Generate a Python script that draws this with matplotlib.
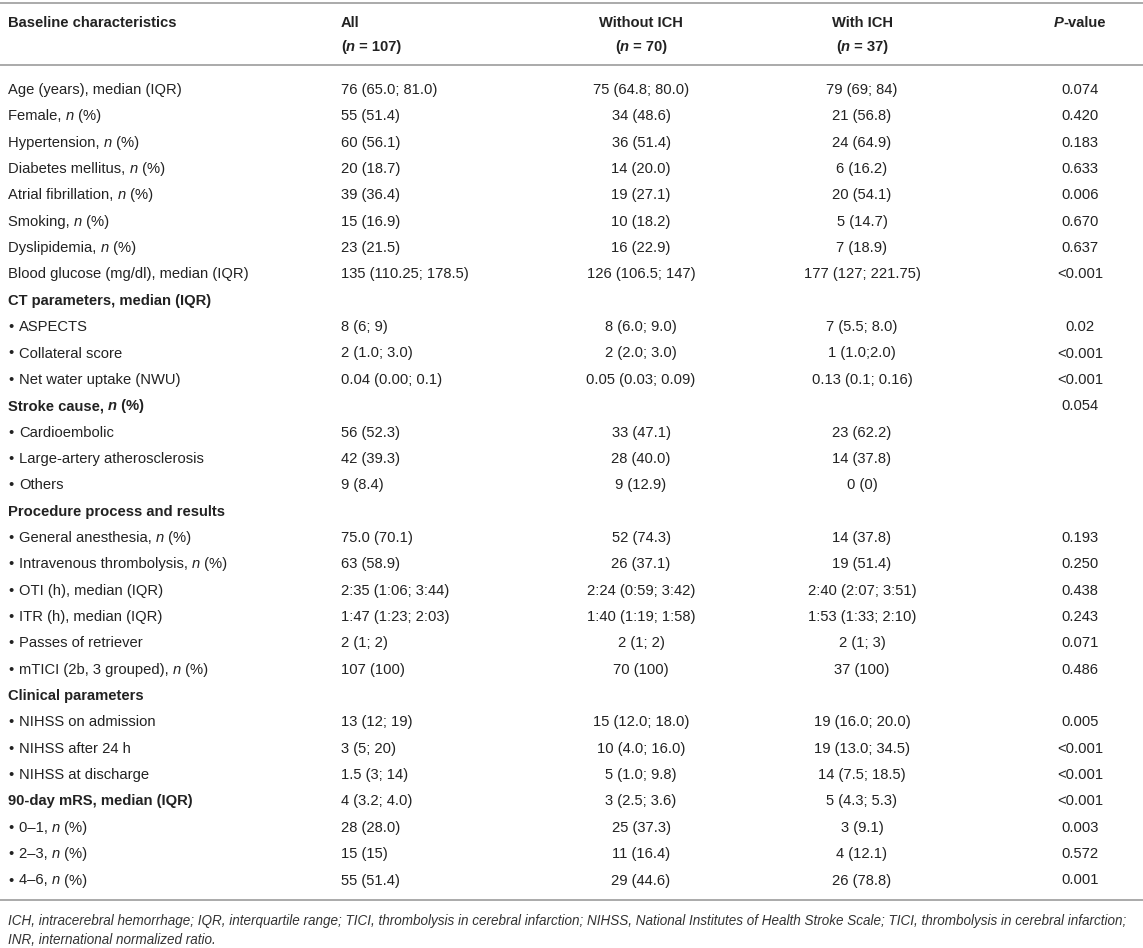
import matplotlib
matplotlib.use("Agg")
import matplotlib.pyplot as plt

# ---------------- data ----------------
labels = [
    "Age (years), median (IQR)", "Female, *n* (%)", "Hypertension, *n* (%)",
    "Diabetes mellitus, *n* (%)", "Atrial fibrillation, *n* (%)", "Smoking, *n* (%)",
    "Dyslipidemia, *n* (%)", "Blood glucose (mg/dl), median (IQR)",
    "CT parameters, median (IQR)", "ASPECTS", "Collateral score", "Net water uptake (NWU)",
    "Stroke cause, *n* (%)", "Cardioembolic", "Large-artery atherosclerosis", "Others",
    "Procedure process and results", "General anesthesia, *n* (%)",
    "Intravenous thrombolysis, *n* (%)", "OTI (h), median (IQR)", "ITR (h), median (IQR)",
    "Passes of retriever", "mTICI (2b, 3 grouped), *n* (%)",
    "Clinical parameters", "NIHSS on admission", "NIHSS after 24 h", "NIHSS at discharge",
    "90-day mRS, median (IQR)", "0\u20131, *n* (%)", "2\u20133, *n* (%)", "4\u20136, *n* (%)",
]
row_kind = [
    "n", "n", "n", "n", "n", "n", "n", "n",
    "s", "b", "b", "b",
    "s", "b", "b", "b",
    "s", "b", "b", "b", "b", "b", "b",
    "s", "b", "b", "b",
    "s", "b", "b", "b",
]
all_vals = [
    "76 (65.0; 81.0)", "55 (51.4)", "60 (56.1)", "20 (18.7)", "39 (36.4)", "15 (16.9)",
    "23 (21.5)", "135 (110.25; 178.5)",
    "", "8 (6; 9)", "2 (1.0; 3.0)", "0.04 (0.00; 0.1)",
    "", "56 (52.3)", "42 (39.3)", "9 (8.4)",
    "", "75.0 (70.1)", "63 (58.9)", "2:35 (1:06; 3:44)", "1:47 (1:23; 2:03)", "2 (1; 2)", "107 (100)",
    "", "13 (12; 19)", "3 (5; 20)", "1.5 (3; 14)",
    "4 (3.2; 4.0)", "28 (28.0)", "15 (15)", "55 (51.4)",
]
without_vals = [
    "75 (64.8; 80.0)", "34 (48.6)", "36 (51.4)", "14 (20.0)", "19 (27.1)", "10 (18.2)",
    "16 (22.9)", "126 (106.5; 147)",
    "", "8 (6.0; 9.0)", "2 (2.0; 3.0)", "0.05 (0.03; 0.09)",
    "", "33 (47.1)", "28 (40.0)", "9 (12.9)",
    "", "52 (74.3)", "26 (37.1)", "2:24 (0:59; 3:42)", "1:40 (1:19; 1:58)", "2 (1; 2)", "70 (100)",
    "", "15 (12.0; 18.0)", "10 (4.0; 16.0)", "5 (1.0; 9.8)",
    "3 (2.5; 3.6)", "25 (37.3)", "11 (16.4)", "29 (44.6)",
]
with_vals = [
    "79 (69; 84)", "21 (56.8)", "24 (64.9)", "6 (16.2)", "20 (54.1)", "5 (14.7)",
    "7 (18.9)", "177 (127; 221.75)",
    "", "7 (5.5; 8.0)", "1 (1.0;2.0)", "0.13 (0.1; 0.16)",
    "", "23 (62.2)", "14 (37.8)", "0 (0)",
    "", "14 (37.8)", "19 (51.4)", "2:40 (2:07; 3:51)", "1:53 (1:33; 2:10)", "2 (1; 3)", "37 (100)",
    "", "19 (16.0; 20.0)", "19 (13.0; 34.5)", "14 (7.5; 18.5)",
    "5 (4.3; 5.3)", "3 (9.1)", "4 (12.1)", "26 (78.8)",
]
p_vals = [
    "0.074", "0.420", "0.183", "0.633", "0.006", "0.670", "0.637", "<0.001",
    "", "0.02", "<0.001", "<0.001",
    "0.054", "", "", "",
    "", "0.193", "0.250", "0.438", "0.243", "0.071", "0.486",
    "", "0.005", "<0.001", "<0.001",
    "<0.001", "0.003", "0.572", "0.001",
]
headers_line1 = ["Baseline characteristics", "All", "Without ICH", "With ICH", "*P*-value"]
headers_line2 = ["", "(*n* = 107)", "(*n* = 70)", "(*n* = 37)", ""]
footnote_lines = [
    "ICH, intracerebral hemorrhage; IQR, interquartile range; TICI, thrombolysis in cerebral infarction; "
    "NIHSS, National Institutes of Health Stroke Scale; TICI, thrombolysis in cerebral infarction;",
    "INR, international normalized ratio.",
]

# ---------------- layout ----------------
W, H = 1143, 948
FONT = "Liberation Sans"
FS = 10.6
TXT = "#222222"
LINE = "#9c9c9c"

fig = plt.figure(figsize=(W / 100, H / 100), dpi=100)
ax = fig.add_axes([0, 0, 1, 1])
ax.set_xlim(0, W)
ax.set_ylim(H, 0)
ax.axis("off")
fig.canvas.draw()
renderer = fig.canvas.get_renderer()


def parse(s):
    segs, it = [], False
    for i, part in enumerate(s.split("*")):
        if part:
            segs.append((part, i % 2 == 1))
    return segs


def rich(x, y, s, size=FS, weight="normal", italic_all=False, ha="left", color=TXT):
    segs = parse(s)
    objs = []
    for txt, it in segs:
        style = "italic" if (it or italic_all) else "normal"
        t = ax.text(0, y, txt, fontsize=size, fontweight=weight, fontstyle=style,
                    family=FONT, color=color, va="baseline", ha="left")
        objs.append(t)
    widths = [o.get_window_extent(renderer).width for o in objs]
    total = sum(widths)
    if ha == "center":
        x0 = x - total / 2
    elif ha == "right":
        x0 = x - total
    else:
        x0 = x
    for o, w in zip(objs, widths):
        o.set_x(x0)
        x0 += w
    return total


# rules
for yy in (3, 65, 900):
    ax.plot([0, W], [yy, yy], color=LINE, lw=1.2, solid_capstyle="butt")

col_x = [8, 341, 641, 862, 1080]
col_ha = ["left", "left", "center", "center", "center"]
BASE = 5

# header
for i in range(5):
    rich(col_x[i], 22 + BASE, headers_line1[i], weight="bold", ha=col_ha[i])
    if headers_line2[i]:
        rich(col_x[i], 46 + BASE, headers_line2[i], weight="bold", ha=col_ha[i])

# body
y0, dy = 89, 26.35
for r, lab in enumerate(labels):
    y = y0 + r * dy + BASE
    kind = row_kind[r]
    if kind == "s":
        rich(8, y, lab, weight="bold")
    elif kind == "b":
        ax.text(8, y, "\u2022", fontsize=FS, family=FONT, color=TXT, va="baseline", ha="left")
        rich(19, y, lab)
    else:
        rich(8, y, lab)
    vals = [all_vals[r], without_vals[r], with_vals[r], p_vals[r]]
    for c, v in enumerate(vals):
        if v:
            rich(col_x[c + 1], y, v, ha=col_ha[c + 1])

# footnote (fit first line to the table width)
probe = ax.text(0, 0, footnote_lines[0], fontsize=10, fontstyle="italic", family=FONT)
wpx = probe.get_window_extent(renderer).width
probe.remove()
fs_foot = 10 * (1124 / wpx)
for k, line in enumerate(footnote_lines):
    rich(8, 920 + k * 19 + 5, line, size=fs_foot, italic_all=True, color="#333333")

fig.savefig("out.png", dpi=100, facecolor="white")
